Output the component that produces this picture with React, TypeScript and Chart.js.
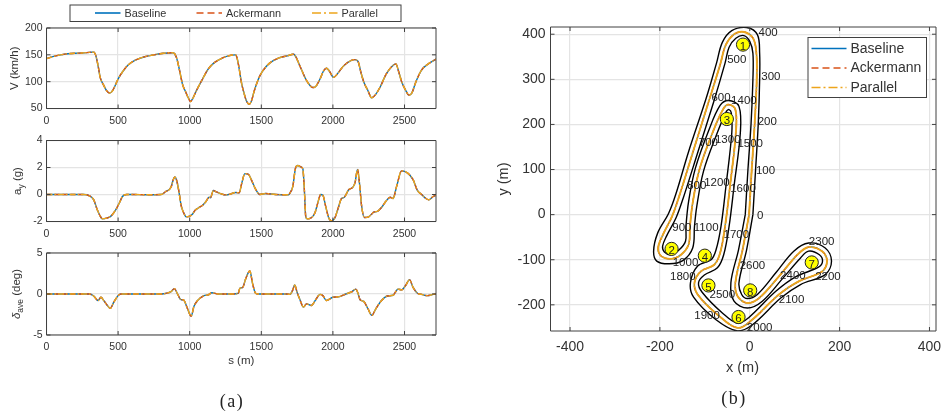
import React, { useEffect, useRef } from "react";
import { Chart, registerables } from "chart.js";

Chart.register(...registerables);

const seriesNames = ["Baseline", "Ackermann", "Parallel"];
const seriesColors = ["#0072BD", "#D95319", "#EDA51C"];

const xTicksDistance = [0, 500, 1000, 1500, 2000, 2500];
const yTicksSpeed = [50, 100, 150, 200];
const yTicksLateral = [-2, 0, 2, 4];
const yTicksSteer = [-5, 0, 5];
const xTicksTrack = [-400, -200, 0, 200, 400];
const yTicksTrack = [-200, -100, 0, 100, 200, 300, 400];

const sSpeed = [0,50,100,150,200,250,300,330,345,360,375,400,420,440,455,475,500,530,570,620,680,750,820,880,895,910,930,950,970,990,1005,1020,1050,1090,1130,1170,1220,1270,1320,1330,1345,1360,1380,1395,1415,1430,1450,1480,1510,1560,1620,1680,1725,1740,1760,1785,1810,1840,1860,1880,1910,1935,1955,1975,2005,2030,2070,2110,2150,2175,2195,2215,2245,2270,2295,2330,2370,2410,2440,2460,2480,2510,2530,2550,2580,2620,2660,2720];
const speedBaseline = [143,147,150,152,153,153.5,154.5,155,148,130,108,93,83,79,81,90,105,118,131,140,146,150,153,154,152,143,120,95,82,70,63,68,85,105,124,135,143,148,150,145,125,100,78,65,58,63,82,105,120,135,144,148,151,147,135,120,105,93,89,91,105,120,125,120,108,114,128,137,141,138,118,100,83,70,75,90,113,128,133,118,100,83,75,78,100,122,132,142];
const speedAckermann = speedBaseline;
const speedParallel = speedBaseline;

const sLateral = [0,260,300,330,350,370,390,420,450,480,510,530,560,600,700,800,830,870,885,897,910,925,940,960,975,1000,1020,1035,1060,1090,1115,1135,1145,1165,1185,1220,1250,1290,1320,1345,1365,1385,1410,1430,1460,1490,1530,1600,1690,1700,1720,1740,1755,1775,1790,1800,1810,1820,1845,1875,1895,1915,1930,1950,1970,1990,2015,2040,2060,2080,2110,2140,2155,2172,2185,2200,2220,2250,2275,2285,2310,2340,2370,2400,2420,2445,2480,2520,2560,2590,2620,2650,2670,2700,2720];
const lateralBaseline = [0,0,-0.1,-0.4,-1,-1.5,-1.8,-1.75,-1.6,-1.2,-0.6,-0.15,0,0,-0.02,0,0.2,0.55,1.1,1.3,1,0.2,-0.8,-1.4,-1.65,-1.6,-1.45,-1.2,-1,-0.8,-0.5,-0.2,-0.25,0.3,0.2,0.05,-0.03,0.05,0.15,0.12,0.9,1.55,1.5,1.1,0.4,0,0.07,0,-0.02,0.1,0.6,2,2.15,2.05,1.9,0.5,-1.6,-1.8,-1.75,-1.35,-0.6,0,-0.05,-0.9,-1.7,-1.95,-1.7,-0.9,-0.3,-0.2,0.35,0.55,0.9,1.85,0.9,-0.8,-1.7,-1.65,-1.4,-1.3,-1.25,-0.95,-0.5,-0.2,-0.3,0.6,1.75,1.6,1.1,0.3,0,-0.3,-0.4,-0.15,-0.05];
const lateralAckermann = lateralBaseline;
const lateralParallel = lateralBaseline;

const sSteer = [0,300,330,360,380,400,425,445,470,500,520,800,840,870,893,915,940,955,985,1010,1030,1055,1100,1130,1155,1200,1300,1340,1350,1370,1390,1420,1440,1460,1480,1680,1700,1720,1733,1750,1770,1795,1815,1850,1880,1910,1930,1955,2000,2040,2090,2130,2160,2175,2190,2215,2245,2272,2300,2340,2380,2420,2455,2480,2510,2535,2560,2590,2620,2660,2700,2720];
const steerBaseline = [0,0,-0.25,-0.8,-0.4,-0.8,-1.4,-1.75,-1,-0.2,0,0,0.1,0.3,0.65,0,-0.7,-0.7,-1.8,-2.7,-1.5,-0.8,-0.2,-0.1,0.15,0,0,0.1,0.7,0.8,1.8,2.8,1.2,0.1,0,0,-0.05,0.5,1.1,0.2,-0.7,-1.6,-1.2,-1.4,-0.7,-0.05,-0.2,-0.8,-0.4,-0.35,0,0.25,0.6,0.1,-0.7,-0.9,-1.8,-2.6,-1.8,-0.8,-0.25,-0.15,0.6,0.5,1.1,1.75,0.8,0.1,-0.05,-0.2,-0.05,0];
const steerAckermann = steerBaseline;
const steerParallel = steerBaseline;

const trackX = [-1.5,4.4,11,15.5,14.8,7.4,-12.6,-34.7,-53,-66,-90,-127,-157,-173,-193,-204,-197,-175,-153,-136,-133,-127,-112,-83,-58,-46,-32,-31,-44,-55,-66,-79,-109,-123,-116,-68,-27,2,65,109,161,172,161,131,106,65,21,-5,-27,-32,-16,-1.5];
const trackY = [0,99.7,203,299,358,391,405,400,377,332,255,137,41,-4,-44,-74,-92,-98,-89,-66,-26,26,100,181,236,244,233,181,63,-26,-85,-111,-126,-151,-177,-225,-251,-236,-177,-148,-126,-103,-81,-72,-89,-137,-185,-196,-181,-151,-78,0];
const outerX = [7,13,19,22,22,17,-7,-40,-61,-74,-97,-136,-165,-181,-205,-214,-207,-179,-149,-127,-123,-118,-103,-74,-52,-46,-41,-40,-53,-64,-75,-86,-116,-132,-125,-75,-27,6,69,113,168,182,168,131,98,58,17,-5,-18,-24,-7,7];
const outerY = [0,100,203,299,358,399,415,408,382,336,258,140,44,2,-41,-81,-103,-109,-102,-74,-26,18,96,177,229,233,225,181,63,-26,-78,-100,-114,-151,-183,-233,-258,-244,-185,-155,-133,-103,-74,-63,-81,-129,-177,-186,-177,-151,-78,0];
const innerX = [-10,-4,3,7,7,0,-13,-31,-46,-55,-80,-117,-148,-164,-185,-194,-190,-175,-157,-143,-142,-136,-121,-92,-66,-47,-24,-21,-35,-46,-58,-72,-101,-114,-106,-61,-27,-3,58,102,154,162,155,131,113,72,28,-5,-35,-42,-25,-10];
const innerY = [0,100,203,299,358,384,397,391,371,336,251,134,37,-7,-47,-70,-83,-89,-78,-59,-26,30,103,185,242,253,240,181,63,-26,-89,-118,-134,-151,-172,-218,-241,-229,-170,-138,-116,-103,-89,-81,-96,-143,-192,-207,-192,-151,-78,0];

const cornerNames = ["1","2","3","4","5","6","7","8"];
const cornerX = [-15,-174,-51,-100,-92,-25,138,1];
const cornerY = [377,-76,212,-91,-157,-227,-106,-168];

const stationNames = ["400","500","300","200","100","0","600","1400","700","1300","1500","800","1200","1600","900","1100","1700","1000","1800","2600","2500","1900","2000","2100","2200","2300","2400"];
const stationX = [41,-29,47,39,35,23,-64,-13,-92,-49,1,-118,-73,-15,-151,-97,-30,-143,-149,6,-61,-95,22,93,174,160,96];
const stationY = [402,343,306,206,97,-2,258,253,160,166,156,64,71,58,-29,-29,-44,-106,-139,-114,-177,-224,-250,-188,-137,-60,-135];

const INK = "#333333";
const GRID = "#e4e4e4";
const SANS = '"Liberation Sans", Arial, sans-serif';
const W = 942;
const H = 417;

const zip = (xs: number[], ys: number[]) => xs.map((x, i) => ({ x, y: ys[i] }));

type Run = { t: string; sub?: boolean; italic?: boolean };
type Box = { l: number; t: number; r: number; b: number };
type LegendCfg = {
  box: Box;
  font: number;
  sample: number;
  textGap: number;
  items: { x: number; y: number }[];
  dashes: number[][];
};

function overlay(box: Box, tickLen: number, legend?: LegendCfg, titleRuns?: Run[], titleX?: number, after?: (c: any) => void) {
  return {
    id: "overlay",
    afterDatasetsDraw(chart: any) {
      const ctx = chart.ctx;
      const { x, y } = chart.scales;
      ctx.save();
      ctx.strokeStyle = "#404040";
      ctx.lineWidth = 1;
      ctx.beginPath();
      x.ticks.forEach((t: any) => {
        const p = x.getPixelForValue(t.value);
        ctx.moveTo(p, box.b);
        ctx.lineTo(p, box.b - tickLen);
        ctx.moveTo(p, box.t);
        ctx.lineTo(p, box.t + tickLen);
      });
      y.ticks.forEach((t: any) => {
        const p = y.getPixelForValue(t.value);
        ctx.moveTo(box.l, p);
        ctx.lineTo(box.l + tickLen, p);
        ctx.moveTo(box.r, p);
        ctx.lineTo(box.r - tickLen, p);
      });
      ctx.rect(box.l, box.t, box.r - box.l, box.b - box.t);
      ctx.stroke();
      ctx.restore();

      if (after) after(chart);

      if (titleRuns && titleX !== undefined) {
        ctx.save();
        ctx.fillStyle = INK;
        ctx.translate(titleX, (box.t + box.b) / 2);
        ctx.rotate(-Math.PI / 2);
        ctx.textBaseline = "middle";
        const fontOf = (r: Run) => `${r.italic ? "italic " : ""}${r.sub ? 8.5 : 11.5}px ${SANS}`;
        let total = 0;
        titleRuns.forEach((r) => {
          ctx.font = fontOf(r);
          total += ctx.measureText(r.t).width;
        });
        let px = -total / 2;
        titleRuns.forEach((r) => {
          ctx.font = fontOf(r);
          ctx.fillText(r.t, px, r.sub ? 3.5 : 0);
          px += ctx.measureText(r.t).width;
        });
        ctx.restore();
      }

      if (legend) {
        const b = legend.box;
        ctx.save();
        ctx.fillStyle = "#ffffff";
        ctx.fillRect(b.l, b.t, b.r - b.l, b.b - b.t);
        ctx.strokeStyle = "#404040";
        ctx.lineWidth = 1;
        ctx.strokeRect(b.l, b.t, b.r - b.l, b.b - b.t);
        ctx.font = `${legend.font}px ${SANS}`;
        ctx.textBaseline = "middle";
        legend.items.forEach((it, i) => {
          ctx.strokeStyle = seriesColors[i];
          ctx.lineWidth = 1.6;
          ctx.setLineDash(legend.dashes[i]);
          ctx.beginPath();
          ctx.moveTo(it.x, it.y);
          ctx.lineTo(it.x + legend.sample, it.y);
          ctx.stroke();
          ctx.fillStyle = INK;
          ctx.fillText(seriesNames[i], it.x + legend.sample + legend.textGap, it.y + 0.5);
        });
        ctx.restore();
      }
    },
  };
}

function axes(
  box: Box,
  xr: [number, number],
  yr: [number, number],
  xTicks: number[],
  yTicks: number[],
  tickFont: number,
  padX: number,
  padY: number,
  xTitle?: any,
  yTitle?: any,
) {
  const fitX = (s: any) => {
    s.height = H - box.b;
    s.paddingLeft = 0;
    s.paddingRight = 0;
  };
  const fitY = (s: any) => {
    s.width = box.l;
    s.paddingTop = 0;
    s.paddingBottom = 0;
  };
  const tick = (pad: number) => ({
    autoSkip: false,
    maxRotation: 0,
    padding: pad,
    color: INK,
    font: { size: tickFont, family: SANS },
    callback: (v: number) => String(v),
  });
  const grid = { color: GRID, lineWidth: 1.2, drawTicks: false, tickLength: 0 };
  return {
    x: {
      type: "linear",
      min: xr[0],
      max: xr[1],
      ticks: tick(padX),
      grid,
      border: { display: false },
      afterBuildTicks: (s: any) => {
        s.ticks = xTicks.map((value) => ({ value }));
      },
      afterFit: fitX,
      title: xTitle ?? { display: false },
    },
    y: {
      type: "linear",
      min: yr[0],
      max: yr[1],
      ticks: tick(padY),
      grid,
      border: { display: false },
      afterBuildTicks: (s: any) => {
        s.ticks = yTicks.map((value) => ({ value }));
      },
      afterFit: fitY,
      title: yTitle ?? { display: false },
    },
  };
}

const lineStyles = [
  { borderWidth: 1.4, borderDash: [] as number[], order: 3 },
  { borderWidth: 1.4, borderDash: [5, 3], order: 2 },
  { borderWidth: 1.4, borderDash: [6, 2, 1.5, 2], order: 1 },
];

function timeChart(canvas: HTMLCanvasElement, box: Box, s: number[], vals: number[][], yr: [number, number], yTicks: number[], extra: { xTitle?: any; yTitle?: any; runs?: Run[]; runsX?: number; legend?: LegendCfg }) {
  return new Chart(canvas, {
    type: "line",
    data: {
      datasets: seriesNames.map((label, i) => ({
        label,
        data: zip(s, vals[i]),
        borderColor: seriesColors[i],
        pointRadius: 0,
        cubicInterpolationMode: "monotone",
        ...lineStyles[i],
      })),
    },
    options: {
      animation: false,
      responsive: false,
      layout: { padding: { top: box.t, right: W - box.r, left: 0, bottom: 0 } },
      plugins: { legend: { display: false }, tooltip: { enabled: false } },
      scales: axes(box, [0, 2720], yr, xTicksDistance, yTicks, 10.5, 6, 4, extra.xTitle, extra.yTitle) as any,
    },
    plugins: [overlay(box, 4, extra.legend, extra.runs, extra.runsX)],
  } as any);
}

function trackChart(canvas: HTMLCanvasElement) {
  const box: Box = { l: 550.5, t: 27, r: 936, b: 331 };
  const legend: LegendCfg = {
    box: { l: 808, t: 37.5, r: 926.5, b: 97.5 },
    font: 14,
    sample: 35,
    textGap: 4,
    items: [
      { x: 811.5, y: 48.5 },
      { x: 811.5, y: 68 },
      { x: 811.5, y: 87.5 },
    ],
    dashes: [[], [7, 4], [9, 3, 2, 3]],
  };
  const drawLabels = (chart: any) => {
    const ctx = chart.ctx;
    const { x, y } = chart.scales;
    ctx.save();
    ctx.beginPath();
    ctx.rect(0, 0, W, H);
    ctx.clip();
    ctx.fillStyle = "#222222";
    ctx.textAlign = "center";
    ctx.textBaseline = "middle";
    ctx.font = `11.5px ${SANS}`;
    stationNames.forEach((n, i) => ctx.fillText(n, x.getPixelForValue(stationX[i]), y.getPixelForValue(stationY[i])));
    cornerNames.forEach((n, i) => ctx.fillText(n, x.getPixelForValue(cornerX[i]), y.getPixelForValue(cornerY[i]) + 2));
    ctx.restore();
  };
  const boundary = (xs: number[], ys: number[], label: string) => ({
    label,
    data: zip(xs, ys),
    borderColor: "#000000",
    borderWidth: 1.4,
    pointRadius: 0,
    tension: 0.35,
    order: 6,
  });
  const racing = (i: number, width: number, dash: number[]) => ({
    label: seriesNames[i],
    data: zip(trackX, trackY),
    borderColor: seriesColors[i],
    borderWidth: width,
    borderDash: dash,
    pointRadius: 0,
    tension: 0.35,
    order: 3 - i,
  });
  return new Chart(canvas, {
    type: "line",
    data: {
      datasets: [
        boundary(outerX, outerY, "outer"),
        boundary(innerX, innerY, "inner"),
        racing(0, 1.2, []),
        racing(1, 1.2, [5, 3]),
        racing(2, 1.9, [14, 0.6, 3, 0.6]),
        {
          label: "corners",
          data: zip(cornerX, cornerY),
          showLine: false,
          pointRadius: 6.6,
          pointBackgroundColor: "#FFFF00",
          pointBorderColor: "#222222",
          pointBorderWidth: 1,
          order: 0,
        },
      ],
    },
    options: {
      animation: false,
      responsive: false,
      layout: { padding: { top: box.t, right: W - box.r, left: 0, bottom: 0 } },
      plugins: { legend: { display: false }, tooltip: { enabled: false } },
      scales: axes(
        box,
        [-443.5, 411],
        [-258, 416],
        xTicksTrack,
        yTicksTrack,
        14,
        8,
        5,
        { display: true, text: "x (m)", color: INK, font: { size: 14.5, family: SANS }, padding: { top: 0, bottom: 40 } },
        { display: true, text: "y (m)", color: INK, font: { size: 14.5, family: SANS }, padding: { top: 495, bottom: 0 } },
      ) as any,
    },
    plugins: [overlay(box, 4, legend, undefined, undefined, drawLabels)],
  } as any);
}

const canvasStyle: React.CSSProperties = { position: "absolute", left: 0, top: 0, width: W, height: H };
const captionStyle: React.CSSProperties = {
  position: "absolute",
  fontFamily: '"Liberation Serif", serif',
  fontSize: 18,
  letterSpacing: 1.5,
  color: "#222",
  transform: "translateX(-50%)",
  lineHeight: "20px",
};

export default function App() {
  const a = useRef<HTMLCanvasElement>(null);
  const b = useRef<HTMLCanvasElement>(null);
  const c = useRef<HTMLCanvasElement>(null);
  const d = useRef<HTMLCanvasElement>(null);

  useEffect(() => {
    document.body.style.margin = "0";
    const legend: LegendCfg = {
      box: { l: 70, t: 5, r: 401, b: 21.5 },
      font: 10.9,
      sample: 25.5,
      textGap: 4,
      items: [
        { x: 95, y: 13 },
        { x: 196.5, y: 13 },
        { x: 312, y: 13 },
      ],
      dashes: [[], [7, 4], [9, 3, 2, 3]],
    };
    const charts = [
      timeChart(a.current!, { l: 46.5, t: 28, r: 436, b: 108.5 }, sSpeed, [speedBaseline, speedAckermann, speedParallel], [50, 200], yTicksSpeed, {
        yTitle: { display: true, text: "V (km/h)", color: INK, font: { size: 11.5, family: SANS }, padding: { top: 8, bottom: 0 } },
        legend,
      }),
      timeChart(b.current!, { l: 46.5, t: 140.5, r: 436, b: 221.5 }, sLateral, [lateralBaseline, lateralAckermann, lateralParallel], [-2, 4], yTicksLateral, {
        runs: [{ t: "a" }, { t: "y", sub: true }, { t: " (g)" }],
        runsX: 18,
      }),
      timeChart(c.current!, { l: 46.5, t: 253, r: 436, b: 335 }, sSteer, [steerBaseline, steerAckermann, steerParallel], [-5, 5], yTicksSteer, {
        xTitle: { display: true, text: "s (m)", color: INK, font: { size: 11.5, family: SANS }, padding: { top: 0, bottom: 49 } },
        runs: [{ t: "δ", italic: true }, { t: "ave", sub: true }, { t: " (deg)" }],
        runsX: 17,
      }),
      trackChart(d.current!),
    ];
    return () => charts.forEach((ch) => ch.destroy());
  }, []);

  return (
    <div style={{ position: "absolute", left: 0, top: 0, width: W, height: H, background: "#fff", overflow: "hidden" }}>
      <canvas ref={a} width={W} height={H} style={canvasStyle} />
      <canvas ref={b} width={W} height={H} style={canvasStyle} />
      <canvas ref={c} width={W} height={H} style={canvasStyle} />
      <canvas ref={d} width={W} height={H} style={canvasStyle} />
      <div style={{ ...captionStyle, left: 232, top: 391 }}>(a)</div>
      <div style={{ ...captionStyle, left: 734, top: 388 }}>(b)</div>
    </div>
  );
}
